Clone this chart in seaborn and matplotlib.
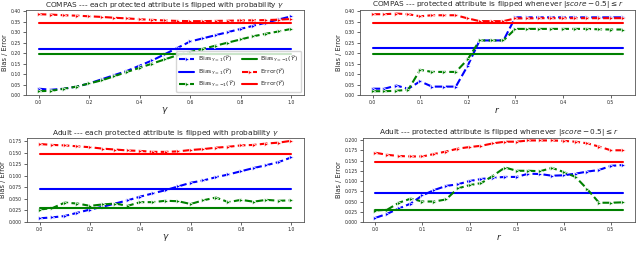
import numpy as np
import pandas as pd
import matplotlib
matplotlib.use("Agg")
import matplotlib.pyplot as plt
import seaborn as sns

gamma = [0.0, 0.05, 0.1, 0.15, 0.2, 0.25, 0.3, 0.35, 0.4, 0.45, 0.5,
         0.55, 0.6, 0.65, 0.7, 0.75, 0.8, 0.85, 0.9, 0.95, 1.0]
r_vals = [0.0, 0.025, 0.05, 0.075, 0.1, 0.125, 0.15, 0.175, 0.2, 0.225, 0.25,
          0.275, 0.3, 0.325, 0.35, 0.375, 0.4, 0.425, 0.45, 0.475, 0.5, 0.525]

# COMPAS, flip with probability gamma
c1_bias_pos = [0.030, 0.025, 0.030, 0.040, 0.055, 0.075, 0.095, 0.115, 0.140, 0.165, 0.195,
               0.225, 0.255, 0.270, 0.285, 0.300, 0.315, 0.330, 0.345, 0.360, 0.375]
c1_bias_neg = [0.018, 0.020, 0.030, 0.040, 0.055, 0.070, 0.090, 0.110, 0.130, 0.150, 0.170,
               0.190, 0.205, 0.220, 0.235, 0.250, 0.265, 0.280, 0.292, 0.303, 0.315]
c1_error = [0.385, 0.383, 0.380, 0.378, 0.375, 0.372, 0.368, 0.365, 0.361, 0.358, 0.355,
            0.353, 0.352, 0.352, 0.353, 0.354, 0.355, 0.356, 0.357, 0.359, 0.362]
c1_ref = {"bias_pos": 0.220, "bias_neg": 0.195, "error": 0.345}

# COMPAS, flip whenever |score-0.5| <= r
c2_bias_pos = [0.030, 0.030, 0.045, 0.030, 0.065, 0.040, 0.040, 0.040, 0.140, 0.260, 0.260,
               0.260, 0.370, 0.370, 0.370, 0.370, 0.370, 0.370, 0.370, 0.370, 0.370, 0.370]
c2_bias_neg = [0.018, 0.018, 0.020, 0.025, 0.120, 0.110, 0.110, 0.110, 0.170, 0.260, 0.260,
               0.260, 0.315, 0.315, 0.315, 0.315, 0.315, 0.315, 0.315, 0.313, 0.312, 0.312]
c2_error = [0.385, 0.385, 0.388, 0.385, 0.375, 0.380, 0.380, 0.380, 0.365, 0.352, 0.352,
            0.352, 0.365, 0.365, 0.366, 0.366, 0.366, 0.366, 0.366, 0.366, 0.366, 0.366]
c2_ref = {"bias_pos": 0.222, "bias_neg": 0.195, "error": 0.345}

# Adult, flip with probability gamma
a1_bias_pos = [0.008, 0.010, 0.013, 0.020, 0.027, 0.033, 0.040, 0.047, 0.055, 0.062, 0.069,
               0.077, 0.085, 0.090, 0.097, 0.103, 0.110, 0.117, 0.123, 0.130, 0.140]
a1_bias_neg = [0.027, 0.030, 0.042, 0.040, 0.035, 0.038, 0.040, 0.035, 0.043, 0.043, 0.046,
               0.045, 0.039, 0.047, 0.053, 0.043, 0.048, 0.044, 0.048, 0.046, 0.047]
a1_error = [0.169, 0.167, 0.166, 0.164, 0.162, 0.159, 0.157, 0.155, 0.154, 0.152, 0.152,
            0.153, 0.156, 0.158, 0.161, 0.163, 0.166, 0.167, 0.170, 0.172, 0.176]
a1_ref = {"bias_pos": 0.071, "bias_neg": 0.030, "error": 0.148}

# Adult, flip whenever |score-0.5| <= r
a2_bias_pos = [0.010, 0.020, 0.033, 0.045, 0.065, 0.078, 0.088, 0.092, 0.100, 0.105, 0.108,
               0.110, 0.110, 0.118, 0.117, 0.113, 0.114, 0.118, 0.123, 0.127, 0.137, 0.139]
a2_bias_neg = [0.028, 0.030, 0.047, 0.057, 0.050, 0.050, 0.055, 0.082, 0.090, 0.095, 0.113,
               0.133, 0.125, 0.125, 0.124, 0.132, 0.122, 0.110, 0.080, 0.047, 0.047, 0.048]
a2_error = [0.169, 0.164, 0.161, 0.160, 0.160, 0.166, 0.172, 0.179, 0.183, 0.186, 0.192,
            0.196, 0.196, 0.199, 0.199, 0.199, 0.198, 0.196, 0.192, 0.184, 0.175, 0.175]
a2_ref = {"bias_pos": 0.071, "bias_neg": 0.030, "error": 0.147}

titles = [
    r"COMPAS --- each protected attribute is flipped with probability $\gamma$",
    r"COMPAS --- protected attribute is flipped whenever $|score-0.5|\leq r$",
    r"Adult --- each protected attribute is flipped with probability $\gamma$",
    r"Adult --- protected attribute is flipped whenever $|score-0.5|\leq r$",
]
xlabels = [r"$\gamma$", r"$r$", r"$\gamma$", r"$r$"]
labels = {
    "bias_pos": r"Bias$_{Y=1}(\widehat{Y})$",
    "bias_neg": r"Bias$_{Y=-1}(\widehat{Y})$",
    "error": r"Error$(\widehat{Y})$",
}
colors = {"bias_pos": "blue", "bias_neg": "green", "error": "red"}

sns.set_style("ticks")
plt.rcParams["font.family"] = ["DejaVu Sans"]

fig = plt.figure(figsize=(6.4, 2.57), dpi=100)
W, H = 640, 257


def ax_at(l, t, r, b):
    return fig.add_axes([l / W, 1 - b / H, (r - l) / W, (b - t) / H])


axes = [ax_at(26, 10, 304, 95), ax_at(360, 10, 635, 95),
        ax_at(27, 138, 304, 222), ax_at(363, 138, 635, 222)]

panels = [
    (gamma, c1_bias_pos, c1_bias_neg, c1_error, c1_ref, (0, 0.405), np.arange(0, 0.41, 0.05), "{:.2f}"),
    (r_vals, c2_bias_pos, c2_bias_neg, c2_error, c2_ref, (0, 0.405), np.arange(0, 0.41, 0.05), "{:.2f}"),
    (gamma, a1_bias_pos, a1_bias_neg, a1_error, a1_ref, (0, 0.182), np.arange(0, 0.18, 0.025), "{:.3f}"),
    (r_vals, a2_bias_pos, a2_bias_neg, a2_error, a2_ref, (0, 0.205), np.arange(0, 0.21, 0.025), "{:.3f}"),
]

for i, (ax, (x, bp, bn, er, ref, ylim, yt, fmt)) in enumerate(zip(axes, panels)):
    x = np.array(x)
    series = {"bias_pos": bp, "bias_neg": bn, "error": er}
    for key in ["bias_pos", "bias_neg", "error"]:
        df = pd.DataFrame({"x": x, "y": series[key]})
        sns.lineplot(data=df, x="x", y="y", ax=ax, color=colors[key], linestyle="--",
                     linewidth=1.5, marker=">", markersize=3, markeredgewidth=0.5,
                     label=labels[key] if i == 0 else None, legend=False)
        dfr = pd.DataFrame({"x": x, "y": [ref[key]] * len(x)})
        sns.lineplot(data=dfr, x="x", y="y", ax=ax, color=colors[key], linestyle="-",
                     linewidth=1.5, label=labels[key] if i == 0 else None, legend=False)
    ax.set_ylim(*ylim)
    ax.set_yticks(yt)
    ax.set_yticklabels([fmt.format(v) for v in yt])
    if x.max() > 0.9:
        xt = [0.0, 0.2, 0.4, 0.6, 0.8, 1.0]
    else:
        xt = [0.0, 0.1, 0.2, 0.3, 0.4, 0.5]
    ax.set_xticks(xt)
    ax.set_xticklabels(["{:.1f}".format(v) for v in xt])
    ax.tick_params(labelsize=3.3, length=2, width=0.5, pad=1.5)
    ax.set_title(titles[i], fontsize=5.3, pad=1)
    ax.set_xlabel(xlabels[i], fontsize=6.5, labelpad=0)
    ax.set_ylabel("Bias / Error", fontsize=4.8, labelpad=2)
    for s in ax.spines.values():
        s.set_linewidth(0.6)
        s.set_color("#555555")

ax0 = axes[0]
h, l = ax0.get_legend_handles_labels()
ax0.legend(h, l, ncol=2, fontsize=4.5, loc="lower right", frameon=True,
           handlelength=2.5, borderpad=0.4, labelspacing=0.3, columnspacing=1.0,
           handletextpad=0.5)

fig.savefig("out.png", dpi=100)
